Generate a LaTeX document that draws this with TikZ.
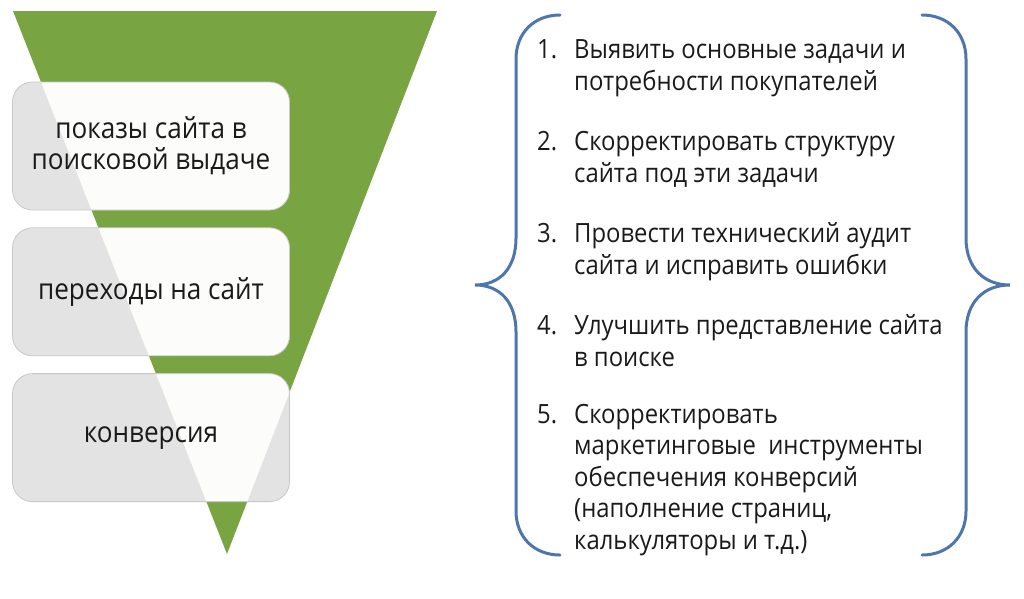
\documentclass[tikz,border=0pt]{standalone}
\usepackage{fontspec}
\setmainfont{Open Sans}[FakeStretch=0.9]
\usetikzlibrary{positioning}
\definecolor{funnelgreen}{RGB}{120,164,66}
\definecolor{boxgray}{RGB}{227,227,227}
\definecolor{boxline}{RGB}{200,200,200}
\definecolor{boxlight}{RGB}{252,252,250}
\definecolor{braceblue}{RGB}{79,118,172}
\definecolor{inkdark}{RGB}{26,26,26}

\begin{document}
\begin{tikzpicture}[
        x=1pt, y=-1pt,
        stage/.style={rectangle, rounded corners=20pt, draw=boxline, line width=0.8pt, fill=boxgray,
            minimum width=277pt, minimum height=128pt, align=center, text=inkdark,
            font=\fontsize{29}{31}\selectfont,
            path picture={\fill[boxlight] (ftl) -- (ftr) -- (fap) -- cycle;}},
        num/.style={anchor=base west, inner sep=0pt, text=inkdark, font=\fontsize{26.5}{31.5}\selectfont},
        task/.style={anchor=base west, inner sep=0pt, align=left, text=inkdark, font=\fontsize{26.5}{31.5}\selectfont},
        brace/.style={draw=braceblue, line width=3pt, line cap=round}
    ]
        \useasboundingbox (0,0) rectangle (1024,598);

        % Funnel
        \coordinate (ftl) at (13,11);
        \coordinate (ftr) at (437,11);
        \coordinate (fap) at (227,554);
        \fill[funnelgreen] (ftl) -- (ftr) -- (fap) -- cycle;

        % Stages
        \node[stage] (s_show) at (151,146) {показы сайта в\\поисковой выдаче};
        \node[stage, below=17pt of s_show] (s_visit) {переходы на сайт};
        \node[stage, below=17pt of s_visit] (s_conv) {конверсия};

        % Braces
        \draw[brace] (560,15) .. controls (534,15) and (516,33) .. (516,59)
            -- (516,238) .. controls (516,268) and (500,285) .. (475,285)
            .. controls (500,285) and (516,302) .. (516,332)
            -- (516,511) .. controls (516,537) and (534,555) .. (560,555);
        \draw[brace] (922,15) .. controls (948,15) and (966,33) .. (966,59)
            -- (966,238) .. controls (966,268) and (984,285) .. (1010,285)
            .. controls (984,285) and (966,302) .. (966,332)
            -- (966,511) .. controls (966,537) and (948,555) .. (922,555);

        % Tasks (text nodes sit on their last line)
        \node[num] (n1) at (537,58) {1.};
        \node[task] (t1) at (574,90) {Выявить основные задачи и\\потребности покупателей};
        \node[num] (n2) at (537,150) {2.};
        \node[task] (t2) at (574,182) {Скорректировать структуру\\сайта под эти задачи};
        \node[num] (n3) at (537,242) {3.};
        \node[task] (t3) at (574,274) {Провести технический аудит\\сайта и исправить ошибки};
        \node[num] (n4) at (537,334) {4.};
        \node[task] (t4) at (574,366) {Улучшить представление сайта\\в поиске};
        \node[num] (n5) at (537,423) {5.};
        \node[task] (t5) at (574,549) {Скорректировать\\маркетинговые~ инструменты\\обеспечения конверсий\\(наполнение страниц,\\калькуляторы и т.д.)};
    \end{tikzpicture}
\end{document}
